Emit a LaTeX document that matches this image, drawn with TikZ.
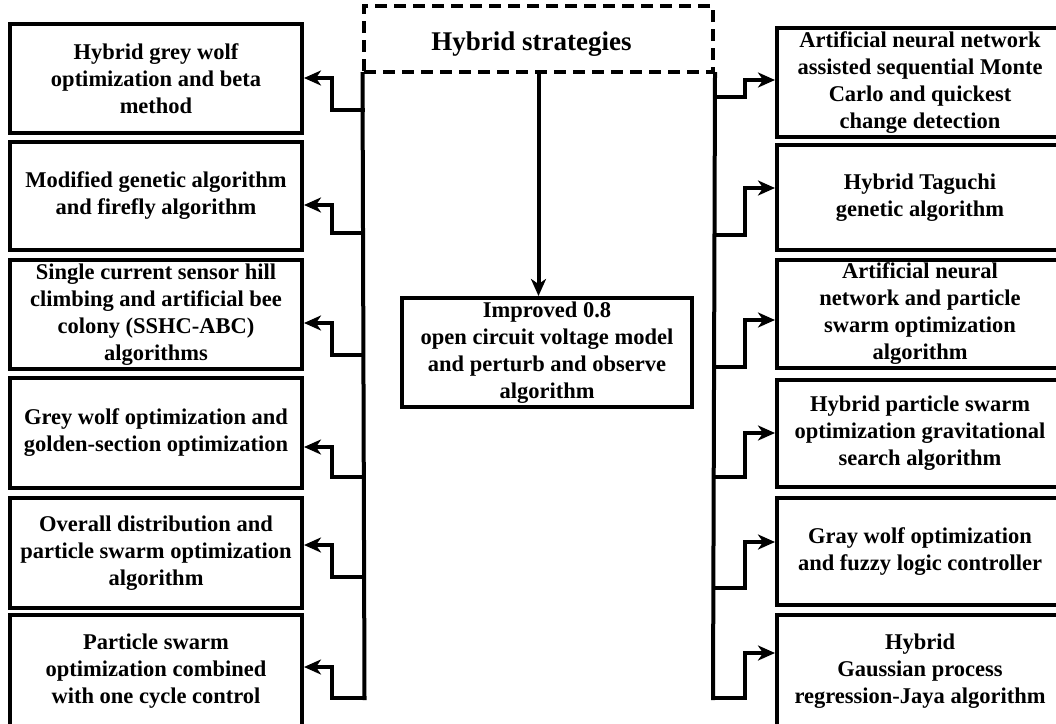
\documentclass[tikz,border=0pt]{standalone}
\usepackage{fontspec}
\setmainfont{Liberation Serif}
\usetikzlibrary{arrows.meta}
\begin{document}
\begin{tikzpicture}[x=1pt,y=-1pt,
  box/.style={draw, line width=4pt, align=center, font=\fontsize{22.5}{27}\selectfont\bfseries, inner sep=0pt},
  lbox/.style={box, minimum width=292pt},
  rbox/.style={box, minimum width=286pt},
  topbox/.style={draw, line width=4pt, dash pattern=on 12pt off 7pt, minimum width=349pt, minimum height=66pt, font=\fontsize{27}{32}\selectfont\bfseries, inner sep=0pt, text height=26pt, text depth=4pt},
  conn/.style={line width=4pt, -{Stealth[length=17pt,width=15pt,inset=5pt]}, line join=miter},
  trunk/.style={line width=4pt, line cap=rect}]
\useasboundingbox (0,0) rectangle (1056,723);
\clip (0,0) rectangle (1056,723);

% top dashed box
\node[topbox] (top) at (538.5,39) {Hybrid strategies\hspace*{14pt}};

% center box
\node[box, minimum width=290pt, minimum height=109pt] (C) at (547,352.5)
  {Improved 0.8\\open circuit voltage model\\and perturb and observe\\algorithm};

% left boxes
\node[lbox, minimum height=109pt] (L1) at (156,78.5) {Hybrid grey wolf\\optimization and beta\\method};
\node[lbox, minimum height=108pt] (L2) at (156,196) {Modified genetic algorithm\\and firefly algorithm};
\node[lbox, minimum height=109pt] (L3) at (156,314.5) {Single current sensor hill\\climbing and artificial bee\\colony (SSHC-ABC)\\algorithms};
\node[lbox, minimum height=110pt] (L4) at (156,433) {Grey wolf optimization and\\golden-section optimization};
\node[lbox, minimum height=110pt] (L5) at (156,553) {Overall distribution and\\particle swarm optimization\\algorithm};
\node[lbox, minimum height=112pt] (L6) at (156,671) {Particle swarm\\optimization combined\\with one cycle control};

% right boxes
\node[rbox, minimum height=109pt] (R1) at (920,82.5) {Artificial neural network\\assisted sequential Monte\\Carlo and quickest\\change detection};
\node[rbox, minimum height=105pt] (R2) at (920,197.5) {Hybrid Taguchi\\genetic algorithm};
\node[rbox, minimum height=108pt] (R3) at (920,314) {Artificial neural\\network and particle\\swarm optimization\\algorithm};
\node[rbox, minimum height=107pt] (R4) at (920,433.5) {Hybrid particle swarm\\optimization gravitational\\search algorithm};
\node[rbox, minimum height=107pt] (R5) at (920,551.5) {Gray wolf optimization\\and fuzzy logic controller};
\node[rbox, minimum height=112pt] (R6) at (920,671) {Hybrid\\Gaussian process\\regression-Jaya algorithm};

% central arrow
\draw[conn] (top.south) -- (top.south |- C.north);

% left connectors
\foreach \i/\b/\a in {1/110/78, 2/233/205, 3/355/323, 4/477/447, 5/577/545, 6/698/667} {
  \coordinate (lb\i) at (364.5,\b);
  \coordinate (lk\i) at (332,\a);
  \draw[conn] (lb\i) -| (lk\i) -- (lk\i -| L\i.east);
}
% right connectors
\foreach \i/\b/\a in {1/97/80, 2/235/188, 3/367/320, 4/477/433, 5/588/542, 6/698/653} {
  \coordinate (rb\i) at (713,\b);
  \coordinate (rk\i) at (745,\a);
  \draw[conn] (rb\i) -| (rk\i) -- (rk\i -| R\i.west);
}

% trunks
\draw[trunk] (top.south west) ++(0.5,0) -- (lb6);
\draw[trunk] (top.south east) -- (rb6);
\end{tikzpicture}
\end{document}
